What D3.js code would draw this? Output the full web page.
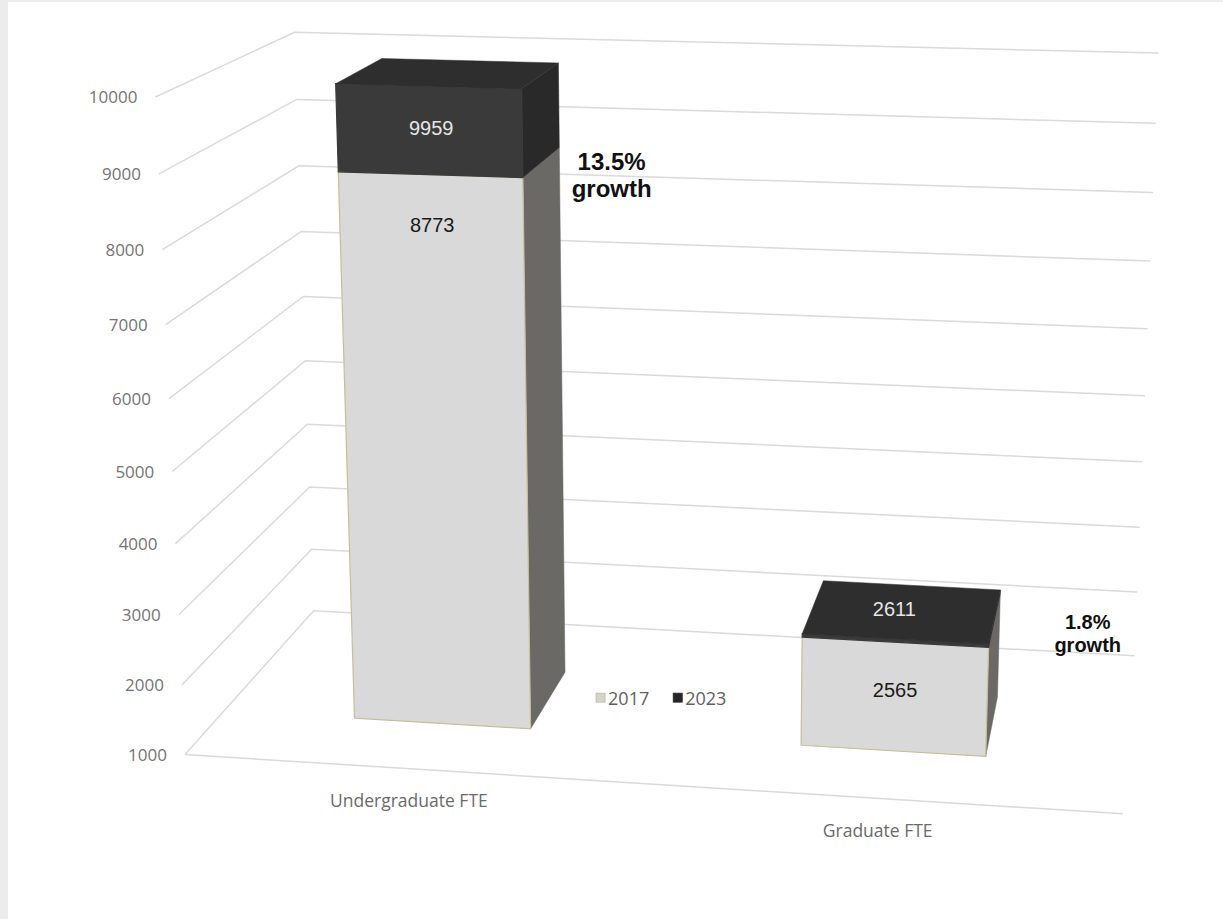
<!DOCTYPE html>
<html><head><meta charset="utf-8">
<script src="https://cdn.jsdelivr.net/npm/d3@7"></script>
<style>
html,body{margin:0;padding:0;background:#fff;}
svg{display:block;}
</style></head>
<body>
<svg id="chart" width="1223" height="919"></svg>
<script>
// ---------------- data ----------------
const categories = ["Undergraduate FTE", "Graduate FTE"];
const seriesNames = ["2017", "2023"];
const values2017 = [8773, 2565];
const values2023 = [9959, 2611];
const growthLabels = ["13.5%", "1.8%"];
const tickValues = [1000, 2000, 3000, 4000, 5000, 6000, 7000, 8000, 9000, 10000];

// ---------------- layout ----------------
const W = 1223, H = 919;
const yMin = 1000, yMax = 10000;
const zFront = 0.28, zBack = 0.66;       // bar depth inside the 3D box
// calibration of the 3D box corners: [X, value, Z, screenX, screenY]
const calib = [
  [0,10000,0,155,98],[0,9000,0,159,174],[0,8000,0,163,248],[0,5000,0,172,469],
  [0,4000,0,175,543],[0,3000,0,180,616],[0,2000,0,182,685],[0,1000,0,185,756],
  [0,10000,1,294,33],[0,9000,1,297,100],[0,8000,1,299,166],[0,7000,1,300,231],
  [0,5000,1,305,361],[0,4000,1,308,423],[0,3000,1,310,488],[0,2000,1,312,549],[0,1000,1,313,611],
  [1,10000,1,1158,53],[1,9000,1,1158,123],[1,8000,1,1153,193],[1,7000,1,1150,262],
  [1,3000,1,1137,526],[1,2000,1,1137,592],[1,1000,1,1137,655],
  [1,1000,0,1122,815]
];

const yScale = d3.scaleLinear().domain([yMin, yMax]).range([0, 1]);
const xScale = d3.scaleBand().domain(categories).range([0, 1]).paddingInner(0.6).paddingOuter(0.3);

// ---- solve a projective camera (DLT, least squares) ----
function solveCamera(pts) {
  const n = 11;
  const A = Array.from({length: n}, () => new Array(n + 1).fill(0));
  const add = (r, b) => {
    for (let i = 0; i < n; i++) {
      for (let j = 0; j < n; j++) A[i][j] += r[i] * r[j];
      A[i][n] += r[i] * b;
    }
  };
  pts.forEach(([X, V, Z, u, v]) => {
    const Y = yScale(V), uu = u / 1000, vv = v / 1000;
    add([X, Y, Z, 1, 0, 0, 0, 0, -uu * X, -uu * Y, -uu * Z], uu);
    add([0, 0, 0, 0, X, Y, Z, 1, -vv * X, -vv * Y, -vv * Z], vv);
  });
  for (let c = 0; c < n; c++) {
    let piv = c;
    for (let r = c + 1; r < n; r++) if (Math.abs(A[r][c]) > Math.abs(A[piv][c])) piv = r;
    [A[c], A[piv]] = [A[piv], A[c]];
    for (let r = 0; r < n; r++) {
      if (r === c) continue;
      const f = A[r][c] / A[c][c];
      for (let k = c; k <= n; k++) A[r][k] -= f * A[c][k];
    }
  }
  return A.map((row, i) => row[n] / row[i]);
}
const P = solveCamera(calib);
function proj(X, V, Z) {
  const Y = yScale(V);
  const w = P[8] * X + P[9] * Y + P[10] * Z + 1;
  return [1000 * (P[0] * X + P[1] * Y + P[2] * Z + P[3]) / w,
          1000 * (P[4] * X + P[5] * Y + P[6] * Z + P[7]) / w];
}

// ---------------- drawing ----------------
const svg = d3.select("#chart");
svg.append("rect").attr("width", W).attr("height", H).attr("fill", "#ececec");
svg.append("rect").attr("x", 8).attr("y", 2).attr("width", W - 8).attr("height", H - 2).attr("fill", "#ffffff");

const line = d3.line();
const grid = svg.append("g").attr("fill", "none").attr("stroke", "#dadada").attr("stroke-width", 1.5);
tickValues.forEach(t => {
  grid.append("path").attr("d", line([proj(0, t, 0), proj(0, t, 1), proj(1, t, 1)]));
});
grid.append("path").attr("d", line([proj(0, yMin, 0), proj(1, yMin, 0)]));

// tick labels
svg.append("g").selectAll("text").data(tickValues).join("text")
  .attr("x", d => proj(0, d, 0)[0] - 18)
  .attr("y", d => proj(0, d, 0)[1])
  .attr("dy", "0.36em")
  .attr("text-anchor", "end")
  .attr("font-family", "Open Sans, sans-serif")
  .attr("font-size", 17)
  .attr("fill", "#747474")
  .text(d => d);

// category labels
svg.append("g").selectAll("text").data(categories).join("text")
  .attr("x", d => proj(xScale(d) + xScale.bandwidth() / 2, yMin, 0)[0] - 2)
  .attr("y", d => proj(xScale(d) + xScale.bandwidth() / 2, yMin, 0)[1] + 32)
  .attr("dy", "0.35em")
  .attr("text-anchor", "middle")
  .attr("font-family", "Open Sans, sans-serif")
  .attr("font-size", 17.5)
  .attr("fill", "#6a6a6a")
  .text(d => d);

// bars
const segStyle = {
  "2017": {front: "#d9d9d9", right: "#6b6966", top: "#cfcfcf", stroke: "#c4bf9a"},
  "2023": {front: "#3a3a3a", right: "#292929", top: "#2e2e2e", stroke: "#3a3a3a"}
};
const poly = pts => "M" + pts.map(p => p.join(",")).join("L") + "Z";
const bars = svg.append("g");
categories.forEach((c, i) => {
  const x0 = xScale(c), x1 = x0 + xScale.bandwidth();
  const segs = [
    {name: "2017", y0: yMin, y1: values2017[i]},
    {name: "2023", y0: values2017[i], y1: values2023[i]}
  ];
  segs.forEach((s, k) => {
    const st = segStyle[s.name];
    bars.append("path").attr("d", poly([proj(x1, s.y0, zFront), proj(x1, s.y0, zBack), proj(x1, s.y1, zBack), proj(x1, s.y1, zFront)]))
      .attr("fill", st.right).attr("stroke", st.right).attr("stroke-width", 0.5);
    bars.append("path").attr("d", poly([proj(x0, s.y0, zFront), proj(x1, s.y0, zFront), proj(x1, s.y1, zFront), proj(x0, s.y1, zFront)]))
      .attr("fill", st.front).attr("stroke", st.stroke).attr("stroke-width", 1.2);
    if (k === segs.length - 1) {
      bars.append("path").attr("d", poly([proj(x0, s.y1, zFront), proj(x1, s.y1, zFront), proj(x1, s.y1, zBack), proj(x0, s.y1, zBack)]))
        .attr("fill", st.top).attr("stroke", st.top).attr("stroke-width", 0.5);
    }
  });
  // value labels
  const xm = (x0 + x1) / 2;
  const p17 = proj(xm, values2017[i] - 680, zFront);
  bars.append("text").attr("x", p17[0] + 1).attr("y", p17[1]).attr("dy", "0.35em")
    .attr("text-anchor", "middle").attr("font-family", "Liberation Sans, Arial, sans-serif")
    .attr("font-size", 20).attr("fill", "#1a1a1a").text(values2017[i]);
  const fTop = proj(xm, values2023[i], zFront), fBot = proj(xm, values2017[i], zFront);
  let p23;
  if (fBot[1] - fTop[1] > 30) { p23 = proj(xm, (values2017[i] + values2023[i]) / 2, zFront); p23[0] += 2; p23[1] -= 3; }
  else { p23 = proj(xm, values2023[i], zFront + (zBack - zFront) * 0.55); p23[0] -= 10; }
  bars.append("text").attr("x", p23[0]).attr("y", p23[1]).attr("dy", "0.35em")
    .attr("text-anchor", "middle").attr("font-family", "Liberation Sans, Arial, sans-serif")
    .attr("font-size", 20).attr("fill", "#e6e6e6").text(values2023[i]);
});

// growth annotations (anchored at each bar's front-top-right corner)
const growthOffsets = [[90, 81, 24, 27], [99, -15, 20, 23]];
categories.forEach((c, i) => {
  const a = proj(xScale(c) + xScale.bandwidth(), values2023[i], zFront);
  const [dx, dy, fs, lh] = growthOffsets[i];
  const t = svg.append("text").attr("text-anchor", "middle")
    .attr("font-family", "Liberation Sans, Arial, sans-serif").attr("font-weight", "bold")
    .attr("font-size", fs).attr("fill", "#111");
  t.append("tspan").attr("x", a[0] + dx).attr("y", a[1] + dy).text(growthLabels[i]);
  t.append("tspan").attr("x", a[0] + dx).attr("y", a[1] + dy + lh).text("growth");
});

// legend (placed on the floor between the bars)
const lg = proj(0.5, 2200, 0);
const legend = svg.append("g").attr("transform", `translate(${lg[0] - 46},${lg[1]})`);
const legendColors = ["#d4d4cc", "#262626"];
let lx = 0;
seriesNames.forEach((s, i) => {
  legend.append("rect").attr("x", lx).attr("y", -5).attr("width", 9).attr("height", 9)
    .attr("fill", legendColors[i]).attr("stroke", i === 0 ? "#bdb9a0" : "#262626").attr("stroke-width", 0.8);
  const tx = legend.append("text").attr("x", lx + 12).attr("y", 0).attr("dy", "0.36em")
    .attr("font-family", "Open Sans, sans-serif").attr("font-size", 18).attr("fill", "#5f5f5f").text(s);
  lx += 12 + tx.node().getComputedTextLength() + 24;
});
</script>
</body></html>
